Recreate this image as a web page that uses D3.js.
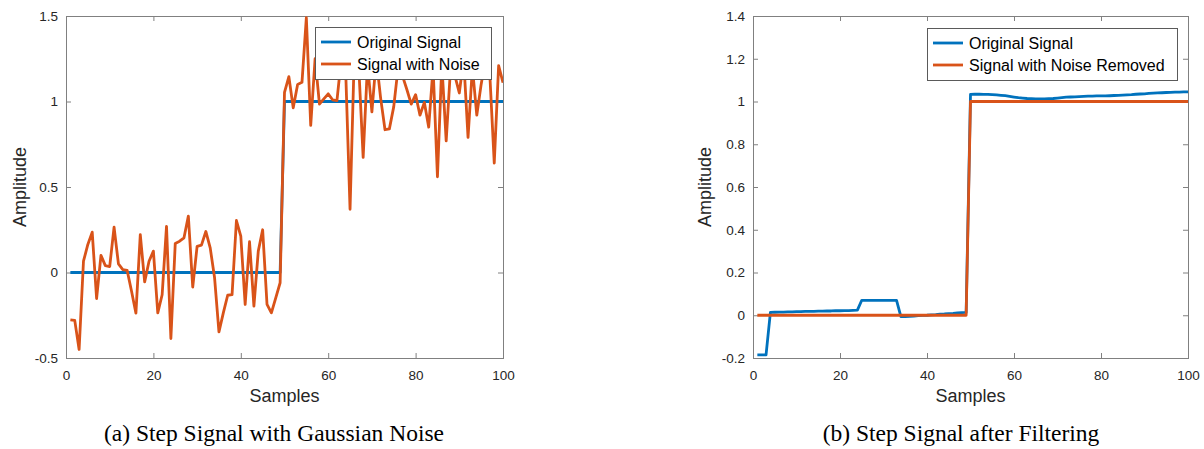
<!DOCTYPE html>
<html>
<head>
<meta charset="utf-8">
<script src="https://cdn.jsdelivr.net/npm/d3@7"></script>
<style>
  html, body { margin: 0; padding: 0; background: #fff; }
  svg { display: block; }
</style>
</head>
<body>
<svg id="chart" width="1204" height="449"></svg>
<script>
// ---------------- DATA ----------------
const samples = d3.range(1, 101);
const xTicks = [0, 20, 40, 60, 80, 100];
const yTicksA = [-0.5, 0, 0.5, 1, 1.5];
const yTicksB = [-0.2, 0, 0.2, 0.4, 0.6, 0.8, 1, 1.2, 1.4];

const originalStep = [
  0,0,0,0,0,0,0,0,0,0, 0,0,0,0,0,0,0,0,0,0, 0,0,0,0,0,0,0,0,0,0, 0,0,0,0,0,0,0,0,0,0,
  0,0,0,0,0,0,0,0,0,1, 1,1,1,1,1,1,1,1,1,1, 1,1,1,1,1,1,1,1,1,1, 1,1,1,1,1,1,1,1,1,1,
  1,1,1,1,1,1,1,1,1,1, 1,1,1,1,1,1,1,1,1,1
];
const noisySignal = [
  -0.277, -0.28, -0.45, 0.066, 0.164, 0.236, -0.152, 0.10, 0.04, 0.035,
  0.265, 0.05, 0.017, 0.012, -0.11, -0.238, 0.222, -0.055, 0.066, 0.125,
  -0.236, -0.13, 0.27, -0.386, 0.17, 0.183, 0.203, 0.33, -0.085, 0.153,
  0.16, 0.24, 0.144, -0.031, -0.347, -0.236, -0.133, -0.13, 0.304, 0.212,
  -0.187, 0.18, -0.197, 0.125, 0.25, -0.187, -0.236, -0.148, -0.06, 1.054,
  1.145, 0.963, 1.10, 1.112, 1.49, 0.86, 1.25, 0.985, 1.015, 1.045,
  1.01, 1.005, 1.25, 1.18, 0.37, 1.3, 1.2, 0.673, 1.22, 0.94,
  1.25, 1.02, 0.835, 0.84, 0.97, 1.2, 1.15, 1.07, 0.985, 1.04,
  0.92, 0.995, 0.85, 1.2, 0.56, 1.22, 0.77, 1.2, 1.15, 1.05,
  1.25, 0.79, 1.2, 0.92, 1.1, 1.25, 1.15, 0.64, 1.21, 1.11
];
const filteredOriginal = [
  -0.185, -0.185, -0.185, 0.013, 0.014, 0.015, 0.015, 0.016, 0.016, 0.017,
  0.017, 0.018, 0.018, 0.018, 0.019, 0.019, 0.020, 0.020, 0.021, 0.021,
  0.022, 0.022, 0.023, 0.024, 0.070, 0.070, 0.070, 0.070, 0.070, 0.070,
  0.070, 0.070, 0.070, -0.006, -0.006, -0.005, -0.004, -0.002, -0.001, 0.000,
  0.002, 0.003, 0.005, 0.006, 0.008, 0.009, 0.011, 0.012, 0.013, 1.033,
  1.034, 1.034, 1.033, 1.033, 1.032, 1.031, 1.029, 1.027, 1.024, 1.021,
  1.018, 1.016, 1.014, 1.013, 1.012, 1.012, 1.012, 1.013, 1.014, 1.016,
  1.018, 1.020, 1.021, 1.022, 1.023, 1.024, 1.025, 1.025, 1.026, 1.026,
  1.026, 1.027, 1.028, 1.029, 1.030, 1.031, 1.032, 1.034, 1.035, 1.036,
  1.038, 1.039, 1.040, 1.041, 1.042, 1.043, 1.044, 1.044, 1.045, 1.045
];
const noiseRemoved = [
  0,0,0,0,0,0,0,0,0,0, 0,0,0,0,0,0,0,0,0,0, 0,0,0,0,0,0,0,0,0,0, 0,0,0,0,0,0,0,0,0,0,
  0,0,0,0,0,0,0,0,0,1, 1,1,1,1,1,1,1,1,1,1, 1,1,1,1,1,1,1,1,1,1, 1,1,1,1,1,1,1,1,1,1,
  1,1,1,1,1,1,1,1,1,1, 1,1,1,1,1,1,1,1,1,1
];
const legendA = ["Original Signal", "Signal with Noise"];
const legendB = ["Original Signal", "Signal with Noise Removed"];

// ---------------- STYLE ----------------
const BLUE = "#0072BD", ORANGE = "#D95319";
const AXIS = "#808080", TEXT = "#262626";
const SANS = "'Liberation Sans', Arial, Helvetica, sans-serif";
const SERIF = "'Liberation Serif', 'Times New Roman', serif";

const svg = d3.select("#chart");

function panel(cfg) {
  const x = d3.scaleLinear().domain([0, 100]).range([cfg.x0, cfg.x1]);
  const y = d3.scaleLinear().domain(cfg.yDomain).range([cfg.y1, cfg.y0]);
  const g = svg.append("g");

  const clipId = "clip" + cfg.id;
  g.append("clipPath").attr("id", clipId).append("rect")
    .attr("x", cfg.x0).attr("y", cfg.y0 - 2)
    .attr("width", cfg.x1 - cfg.x0).attr("height", cfg.y1 - cfg.y0 + 4);

  // axes (ticks inward, MATLAB style)
  const fmt = d => String(d);
  const styleAxis = sel => {
    sel.select(".domain").remove();
    sel.selectAll(".tick line").attr("stroke", AXIS).attr("stroke-width", 1);
    sel.selectAll(".tick text").attr("fill", TEXT)
      .style("font-family", SANS).style("font-size", "13.5px");
  };
  g.append("g").attr("transform", `translate(0,${cfg.y1})`)
    .call(d3.axisBottom(x).tickValues(xTicks).tickFormat(fmt).tickSize(-5).tickPadding(12))
    .call(styleAxis);
  g.append("g").attr("transform", `translate(0,${cfg.y0})`)
    .call(d3.axisTop(x).tickValues(xTicks).tickFormat("").tickSize(-5))
    .call(styleAxis);
  g.append("g").attr("transform", `translate(${cfg.x0},0)`)
    .call(d3.axisLeft(y).tickValues(cfg.yTicks).tickFormat(fmt).tickSize(-5).tickPadding(8))
    .call(styleAxis);
  g.append("g").attr("transform", `translate(${cfg.x1},0)`)
    .call(d3.axisRight(y).tickValues(cfg.yTicks).tickFormat("").tickSize(-5))
    .call(styleAxis);

  g.append("rect")
    .attr("x", cfg.x0 + 0.5).attr("y", cfg.y0 + 0.5)
    .attr("width", cfg.x1 - cfg.x0).attr("height", cfg.y1 - cfg.y0)
    .attr("fill", "none").attr("stroke", AXIS).attr("stroke-width", 1);

  // lines
  const line = vals => d3.line()
    .x((d, i) => x(samples[i])).y(d => y(d))(vals);
  const lines = g.append("g").attr("clip-path", `url(#${clipId})`);
  cfg.series.forEach(s => {
    lines.append("path").attr("d", line(s.values))
      .attr("fill", "none").attr("stroke", s.color)
      .attr("stroke-width", 2.8).attr("stroke-linejoin", "round");
  });

  // legend
  const L = cfg.legend;
  g.append("rect").attr("x", L.x + 0.5).attr("y", L.y + 0.5)
    .attr("width", L.w).attr("height", L.h)
    .attr("fill", "#fff").attr("stroke", "#5a5a5a").attr("stroke-width", 1);
  cfg.series.forEach((s, i) => {
    const yy = L.y + 15 + i * 22;
    g.append("line").attr("x1", L.x + 6).attr("x2", L.x + 36)
      .attr("y1", yy).attr("y2", yy)
      .attr("stroke", s.color).attr("stroke-width", 2.8);
    g.append("text").attr("x", L.x + 42).attr("y", yy)
      .attr("dy", "0.36em").attr("fill", "#000")
      .style("font-family", SANS).style("font-size", "16px")
      .text(s.name);
  });

  // axis titles
  const cx = (cfg.x0 + cfg.x1) / 2;
  g.append("text").attr("x", cx).attr("y", 402).attr("text-anchor", "middle")
    .attr("fill", TEXT).style("font-family", SANS).style("font-size", "18px")
    .text("Samples");
  g.append("text")
    .attr("transform", `translate(${cfg.ylabX},${(cfg.y0 + cfg.y1) / 2}) rotate(-90)`)
    .attr("text-anchor", "middle").attr("fill", TEXT)
    .style("font-family", SANS).style("font-size", "18px")
    .text("Amplitude");

  // caption
  g.append("text").attr("x", cfg.capX).attr("y", 441).attr("text-anchor", "middle")
    .attr("fill", "#000").style("font-family", SERIF).style("font-size", "23.5px")
    .text(cfg.caption);
}

panel({
  id: "a", x0: 66, x1: 503, y0: 16, y1: 358,
  yDomain: [-0.5, 1.5], yTicks: yTicksA, ylabX: 26,
  series: [
    { name: legendA[0], values: originalStep, color: BLUE },
    { name: legendA[1], values: noisySignal, color: ORANGE }
  ],
  legend: { x: 315, y: 27, w: 176, h: 52 },
  caption: "(a) Step Signal with Gaussian Noise", capX: 274
});

panel({
  id: "b", x0: 753, x1: 1188, y0: 16, y1: 358,
  yDomain: [-0.2, 1.4], yTicks: yTicksB, ylabX: 711,
  series: [
    { name: legendB[0], values: filteredOriginal, color: BLUE },
    { name: legendB[1], values: noiseRemoved, color: ORANGE }
  ],
  legend: { x: 927, y: 28, w: 250, h: 52 },
  caption: "(b) Step Signal after Filtering", capX: 961
});
</script>
</body>
</html>
